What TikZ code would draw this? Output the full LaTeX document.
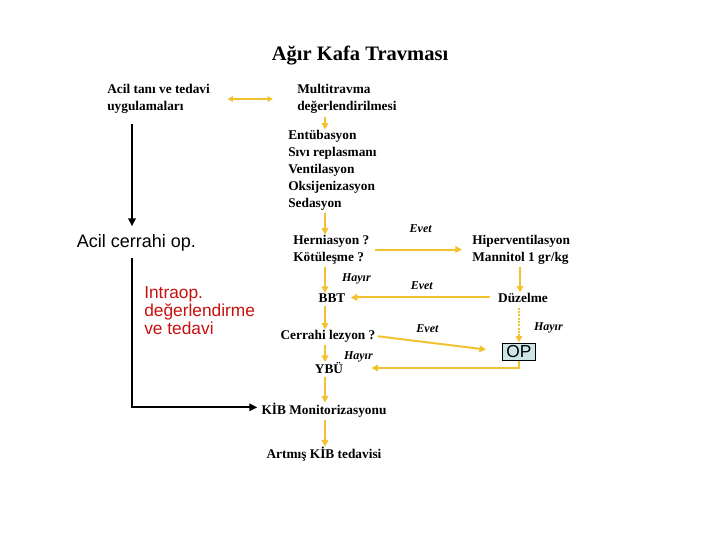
\documentclass[tikz,border=0pt]{standalone}
\usepackage{fontspec}
\setmainfont{Liberation Serif}
\setsansfont{Liberation Sans}
\usepackage{xcolor}
\usetikzlibrary{arrows.meta, positioning}

\definecolor{okSari}{RGB}{242,194,48}
\definecolor{opMavi}{RGB}{204,230,230}
\definecolor{koyuKirmizi}{RGB}{200,16,16}

\begin{document}
\begin{tikzpicture}[
    x=0.75pt, y=-0.75pt,
    node distance=15pt,
    baslik/.style={font=\fontsize{15.4}{18}\selectfont\bfseries, inner sep=0pt},
    flow/.style={font=\fontsize{10}{12.75}\selectfont\bfseries, align=left, inner sep=0pt},
    lbl/.style={font=\fontsize{9}{10}\selectfont\bfseries\itshape, inner sep=0pt},
    duz/.style={font=\sffamily\fontsize{13.5}{13.5}\selectfont, align=left, inner sep=0pt},
    opbox/.style={rectangle, draw=black, line width=0.75pt, fill=opMavi,
        minimum width=24.75pt, minimum height=12.75pt, inner sep=0pt,
        font=\sffamily\fontsize{13}{13}\selectfont},
    yarrow/.style={-{Triangle[length=5pt, width=5pt]}, line width=1.5pt, draw=okSari},
    ycift/.style={{Triangle[length=4pt, width=4pt]}-{Triangle[length=4pt, width=4pt]},
        line width=1.1pt, draw=okSari},
    karrow/.style={-{Triangle[length=6pt, width=5.5pt]}, line width=1.5pt, draw=black}
]
\useasboundingbox (0,0) rectangle (720,540);

% Title
\node[baslik] (baslik) at (360,56) {Ağır Kafa Travması};

% Flow nodes
\node[flow, anchor=west] (acil) at (107,99) {Acil tanı ve tedavi\\uygulamaları};
\node[flow, anchor=west] (multi) at (297,99) {Multitravma\\değerlendirilmesi};
\node[flow, anchor=west] (tedbir) at (288,170) {Entübasyon\\Sıvı replasmanı\\Ventilasyon\\Oksijenizasyon\\Sedasyon};
\node[flow, anchor=west] (hern) at (293,249.5) {Herniasyon ?\\Kötüleşme ?};
\node[flow, anchor=west] (hiper) at (472,249.5) {Hiperventilasyon\\Mannitol 1 gr/kg};
\node[flow, anchor=base] (bbt) at (332,302) {BBT};
\node[flow, anchor=base] (dzl) at (523,302) {Düzelme};
\node[flow] (cerr) at (328,336) {Cerrahi lezyon ?};
\node[opbox] (op) at (519,351.5) {OP};
\node[flow] (ybu) at (329,368) {YBÜ};
\node[flow] (kib) at (324,410) {KİB Monitorizasyonu};
\node[flow] (artmis) at (324,454) {Artmış KİB tedavisi};

% Left side
\node[duz] (acilop) at (136.5,243) {Acil cerrahi op.};
\node[duz, text=koyuKirmizi, anchor=west, font=\sffamily\fontsize{13}{13.5}\selectfont] (intraop) at (144,311) {Intraop.\\değerlendirme\\ve tedavi};

% Columns
\coordinate (col) at (325,0);
\coordinate (sag) at (520,0);
\coordinate (sol) at (132,0);

% Arrows
\draw[ycift, shorten <=13pt, shorten >=18pt] (acil.east) -- (multi.west);
\draw[yarrow, shorten <=2pt] (multi.south -| col) -- (tedbir.north -| col);
\draw[yarrow, shorten <=2pt] (tedbir.south -| col) -- (hern.north -| col);
\draw[yarrow, shorten <=4.5pt, shorten >=7.5pt] (hern.east) -- node[lbl, above=12pt] {Evet} (hiper.west);
\draw[yarrow, shorten <=2pt] (hern.south -| col) -- node[lbl, right=12pt, pos=.5] {Hayır} (bbt.north -| col);
\draw[yarrow, shorten <=2pt] (hiper.south -| sag) -- (dzl.north -| sag);
\draw[yarrow, shorten <=6pt, shorten >=3.75pt] (dzl.west) -- node[lbl, above=5pt] {Evet} (bbt.east |- dzl.west);
\draw[yarrow, shorten <=3pt] (bbt.south -| col) -- (cerr.north -| col);
\draw[yarrow, shorten <=1.5pt, shorten >=12pt] (cerr.east) -- node[lbl, above=6.5pt, pos=.41] {Evet} (op.west);
\draw[yarrow, densely dotted, shorten <=4pt] (dzl.south -| op) -- node[lbl, right=10.5pt, pos=.63] {Hayır} (op.north);
\draw[yarrow, shorten >=21pt] (op.south) |- (ybu.east);
\draw[yarrow, shorten <=2pt] (cerr.south -| col) -- node[lbl, right=13.5pt, pos=.75] {Hayır} (ybu.north -| col);
\draw[yarrow, shorten <=2pt] (ybu.south -| col) -- (kib.north -| col);
\draw[yarrow, shorten <=2pt] (kib.south -| col) -- (artmis.north -| col);
\draw[karrow, shorten <=7.5pt, shorten >=6pt] (acil.south -| sol) -- (acilop.north -| sol);
\draw[karrow, shorten <=4.5pt, shorten >=3pt] (acilop.south -| sol) |- ([yshift=2pt]kib.west);

\end{tikzpicture}
\end{document}
